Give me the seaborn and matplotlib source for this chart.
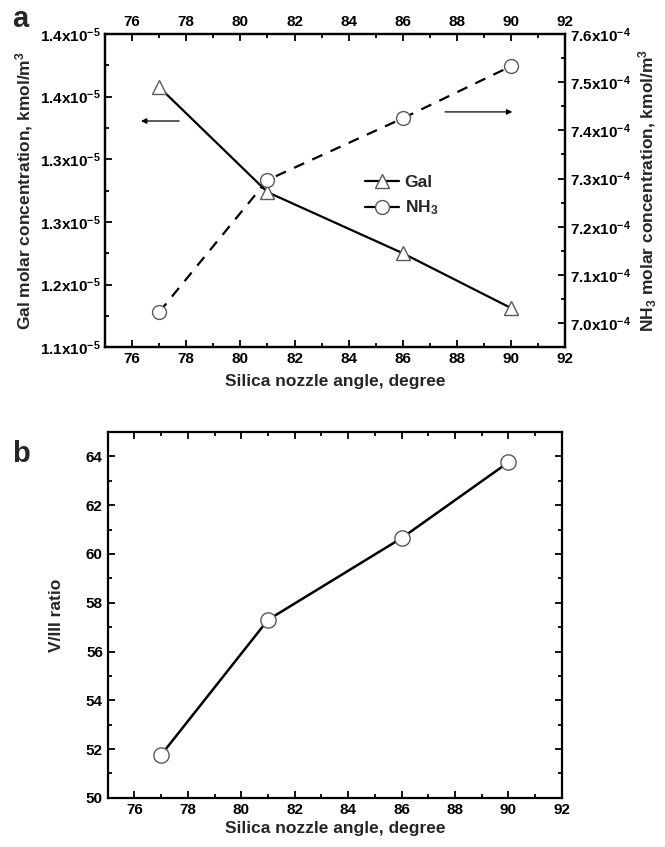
"""
Gal / NH3 concentration and V/III ratio vs silica nozzle angle.
"""

import matplotlib
matplotlib.use("Agg")
import matplotlib.pyplot as plt
from matplotlib.lines import Line2D
from matplotlib.ticker import FixedLocator, MultipleLocator, FuncFormatter
import seaborn as sns

# data
angle = [77, 81, 86, 90]
gal_conc = [1.389e-5, 1.2885e-5, 1.230e-5, 1.1775e-5]
nh3_conc = [7.023e-4, 7.297e-4, 7.425e-4, 7.533e-4]
v3_ratio = [51.76, 57.30, 60.65, 63.76]

x_ticks = [76, 78, 80, 82, 84, 86, 88, 90, 92]
gal_ticks = [1.14e-5, 1.20e-5, 1.26e-5, 1.32e-5, 1.38e-5, 1.44e-5]
nh3_ticks = [7.0e-4, 7.1e-4, 7.2e-4, 7.3e-4, 7.4e-4, 7.5e-4, 7.6e-4]
ratio_ticks = [50, 52, 54, 56, 58, 60, 62, 64]

sns.set_style("ticks")
plt.rcParams['font.family'] = ['Liberation Sans', 'DejaVu Sans']
plt.rcParams['font.weight'] = 'bold'
plt.rcParams['axes.labelweight'] = 'bold'
plt.rcParams['mathtext.fontset'] = 'custom'
plt.rcParams['mathtext.rm'] = 'Liberation Sans:bold'
plt.rcParams['mathtext.bf'] = 'Liberation Sans:bold'
plt.rcParams['mathtext.default'] = 'bf'

EDGE = '0.35'
TICK_FS = 11
LABEL_FS = 12.5


def style_axis(ax):
    for sp in ax.spines.values():
        sp.set_visible(True)
        sp.set_linewidth(1.6)
        sp.set_color('black')
    ax.tick_params(which='both', direction='in', colors='black',
                   labelsize=TICK_FS, width=1.3)
    ax.tick_params(which='major', length=5)
    ax.tick_params(which='minor', length=3)


def sci_fmt(exp):
    return FuncFormatter(lambda v, p: f"{v / 10 ** exp:.1f}x10$^{{{exp}}}$")


fig = plt.figure(figsize=(6.65, 8.47), dpi=100)

# ---- panel a ----
ax = fig.add_axes([0.158, 0.590, 0.692, 0.370])
ax2 = ax.twinx()

sns.lineplot(x=angle, y=gal_conc, ax=ax, color='black', linewidth=1.6,
             marker='^', markersize=10, markerfacecolor='white',
             markeredgecolor=EDGE, markeredgewidth=1.0)
sns.lineplot(x=angle, y=nh3_conc, ax=ax2, color='black', linewidth=1.6,
             linestyle=(0, (5, 4)),
             marker='o', markersize=10, markerfacecolor='white',
             markeredgecolor=EDGE, markeredgewidth=1.0)

ax.set_xlim(75, 92)
ax.set_ylim(gal_ticks[0], gal_ticks[-1])
ax2.set_ylim(6.95e-4, 7.6e-4)

ax.xaxis.set_major_locator(FixedLocator(x_ticks))
ax.xaxis.set_minor_locator(MultipleLocator(1))
ax.yaxis.set_major_locator(FixedLocator(gal_ticks))
ax.yaxis.set_minor_locator(MultipleLocator(0.03e-5))
ax.yaxis.set_major_formatter(sci_fmt(-5))
ax2.yaxis.set_major_locator(FixedLocator(nh3_ticks))
ax2.yaxis.set_minor_locator(MultipleLocator(0.05e-4))
ax2.yaxis.set_major_formatter(sci_fmt(-4))

style_axis(ax)
style_axis(ax2)
ax.tick_params(which='both', top=True, labeltop=True, right=False)
ax2.tick_params(which='both', left=False, right=True)

ax.set_xlabel('Silica nozzle angle, degree', fontsize=LABEL_FS, labelpad=6)
ax.set_ylabel('Gal molar concentration, kmol/m$^3$', fontsize=LABEL_FS,
              labelpad=3)
ax2.set_ylabel('NH$_3$ molar concentration, kmol/m$^3$', fontsize=LABEL_FS,
               labelpad=4)

ax.annotate('', xy=(0.072, 0.722), xytext=(0.167, 0.722),
            xycoords='axes fraction',
            arrowprops=dict(arrowstyle='-|>', color='black', lw=0.9,
                            mutation_scale=8))
ax.annotate('', xy=(0.891, 0.751), xytext=(0.733, 0.751),
            xycoords='axes fraction',
            arrowprops=dict(arrowstyle='-|>', color='black', lw=0.9,
                            mutation_scale=8))

handles = [
    Line2D([], [], color='black', lw=1.6, marker='^', markersize=10,
           markerfacecolor='white', markeredgecolor=EDGE),
    Line2D([], [], color='black', lw=1.6, marker='o', markersize=10,
           markerfacecolor='white', markeredgecolor=EDGE),
]
ax2.legend(handles, ['Gal', 'NH$_3$'], loc='upper left',
           bbox_to_anchor=(0.53, 0.60), frameon=False, fontsize=LABEL_FS,
           handlelength=2.0, handletextpad=0.3, labelspacing=0.5)

fig.text(0.018, 0.977, 'a', fontsize=21, fontweight='bold', va='center')

# ---- panel b ----
bx = fig.add_axes([0.162, 0.058, 0.683, 0.432])
sns.lineplot(x=angle, y=v3_ratio, ax=bx, color='black', linewidth=1.8,
             marker='o', markersize=11, markerfacecolor='white',
             markeredgecolor=EDGE, markeredgewidth=1.0)

bx.set_xlim(75, 92)
bx.set_ylim(50, 65)
bx.xaxis.set_major_locator(FixedLocator(x_ticks))
bx.xaxis.set_minor_locator(MultipleLocator(1))
bx.yaxis.set_major_locator(FixedLocator(ratio_ticks))
bx.yaxis.set_minor_locator(MultipleLocator(1))
style_axis(bx)
bx.tick_params(which='both', top=True, right=True)
bx.set_xlabel('Silica nozzle angle, degree', fontsize=LABEL_FS, labelpad=3)
bx.set_ylabel('V/III ratio', fontsize=LABEL_FS, labelpad=16)

fig.text(0.018, 0.464, 'b', fontsize=21, fontweight='bold', va='center')

fig.savefig('out.png', dpi=100)
